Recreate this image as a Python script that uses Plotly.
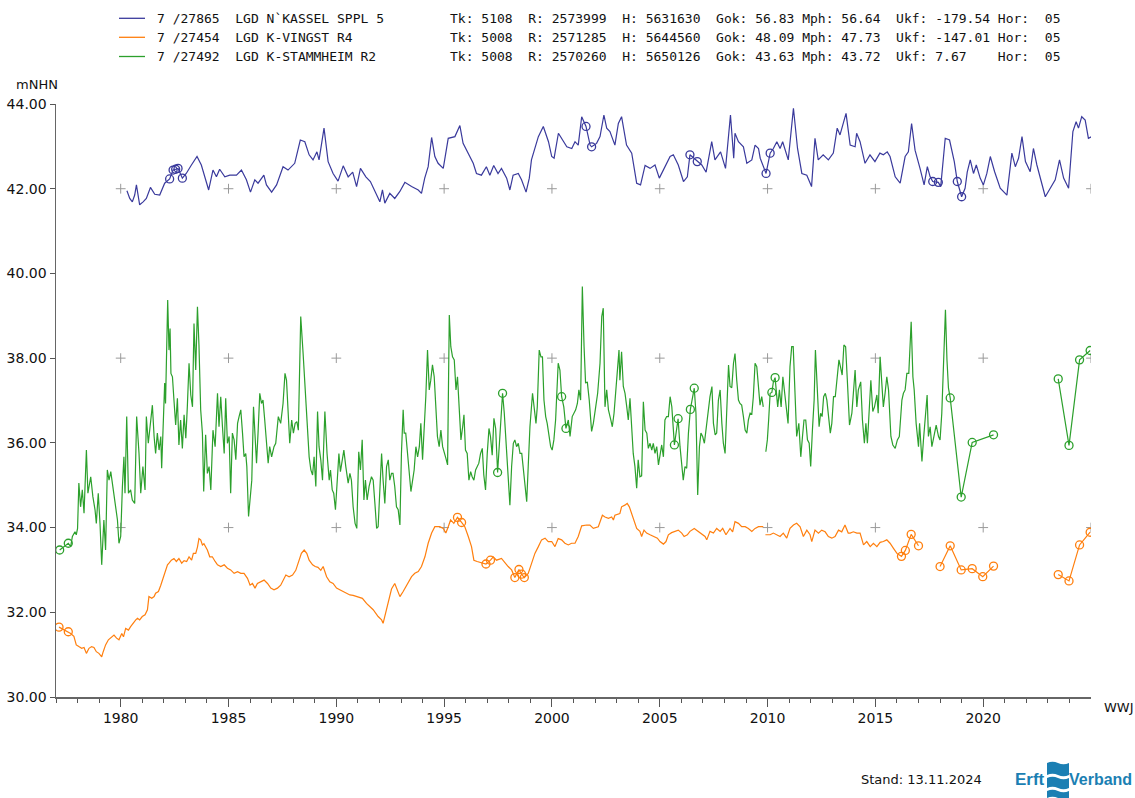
import plotly.graph_objects as go

# ---------------- data ----------------
# (year, level mNHN); (None, None) marks a gap in the record
kassel = [
(1980.29,41.95),(1980.42,41.77),(1980.54,41.69),(1980.65,41.85),(1980.73,42.09),(1980.80,41.85),(1980.88,41.62),
(1981.04,41.69),(1981.19,41.77),(1981.38,42.03),(1981.58,41.87),(1981.81,41.85),(1981.96,42.01),(1982.04,42.13),
(1982.27,42.23),(1982.43,42.44),(1982.55,42.46),(1982.66,42.48),(1982.86,42.25),(1983.04,42.36),(1983.28,42.56),
(1983.54,42.76),(1983.74,42.56),(1983.90,42.25),(1984.08,41.97),(1984.28,42.44),(1984.44,42.28),(1984.59,42.46),
(1984.83,42.28),(1985.06,42.32),(1985.37,42.32),(1985.60,42.44),(1985.83,42.21),(1986.02,41.92),(1986.22,42.21),
(1986.37,42.13),(1986.64,42.32),(1986.76,42.09),(1987.00,41.92),(1987.23,42.09),(1987.53,42.52),(1987.76,42.44),
(1988.07,42.60),(1988.33,43.15),(1988.54,43.11),(1988.74,42.80),(1988.92,42.68),(1989.10,42.87),(1989.20,42.68),
(1989.43,43.43),(1989.62,42.64),(1989.85,42.36),(1990.08,42.18),(1990.32,42.54),(1990.55,42.28),(1990.76,42.39),
(1990.94,42.05),(1991.12,42.48),(1991.37,42.28),(1991.58,42.17),(1991.86,41.85),(1992.02,41.69),(1992.14,41.97),
(1992.25,41.66),(1992.48,41.89),(1992.71,41.77),(1992.94,41.93),(1993.18,42.15),(1993.49,42.05),(1993.80,41.97),
(1993.95,41.89),(1994.10,42.25),(1994.26,42.52),(1994.42,43.21),(1994.57,42.76),(1994.72,42.60),(1994.96,42.48),
(1995.19,43.19),(1995.50,43.23),(1995.73,43.49),(1995.88,43.07),(1996.12,42.84),(1996.35,42.60),(1996.50,42.36),
(1996.73,42.32),(1996.96,42.52),(1997.12,42.32),(1997.30,42.55),(1997.50,42.36),(1997.66,42.48),(1997.90,42.25),
(1998.05,41.97),(1998.20,42.32),(1998.44,42.36),(1998.59,42.21),(1998.80,41.92),(1998.95,42.25),(1999.05,42.68),
(1999.37,43.23),(1999.60,43.47),(1999.84,43.11),(1999.99,42.76),(2000.10,42.72),(2000.30,43.31),(2000.53,43.11),
(2000.69,42.99),(2000.92,42.95),(2001.07,43.11),(2001.22,43.03),(2001.38,43.70),(2001.58,43.47),(2001.77,43.03),
(2001.84,42.99),(2002.07,43.07),(2002.23,43.23),(2002.41,43.74),(2002.54,43.43),(2002.69,43.35),(2002.92,43.03),
(2003.08,43.54),(2003.23,43.70),(2003.46,43.03),(2003.70,42.84),(2003.93,42.13),(2004.11,42.09),(2004.32,42.55),
(2004.55,42.48),(2004.78,42.56),(2004.98,42.25),(2005.20,42.48),(2005.48,42.76),(2005.63,42.80),(2005.86,42.56),
(2006.10,42.17),(2006.28,42.28),(2006.40,42.80),(2006.74,42.64),(2006.95,42.56),(2007.15,42.39),(2007.41,43.11),
(2007.56,42.68),(2007.82,42.87),(2008.05,42.48),(2008.28,43.74),(2008.43,42.72),(2008.49,43.31),(2008.65,43.11),
(2008.88,42.99),(2009.04,42.60),(2009.27,42.68),(2009.42,43.03),(2009.58,42.95),(2009.66,42.72),(2009.93,42.36),
(2010.12,42.84),(2010.27,42.95),(2010.43,43.11),(2010.58,42.95),(2010.70,43.11),(2010.81,42.91),(2010.96,42.68),
(2011.20,43.90),(2011.39,42.95),(2011.59,42.36),(2011.82,42.32),(2012.04,42.05),(2012.20,43.19),(2012.35,42.68),
(2012.58,42.80),(2012.82,42.68),(2013.05,42.84),(2013.23,43.43),(2013.36,43.27),(2013.64,43.78),(2013.83,43.03),
(2014.06,42.99),(2014.13,43.31),(2014.29,43.11),(2014.52,42.60),(2014.75,42.80),(2014.98,42.64),(2015.21,42.84),
(2015.37,42.80),(2015.55,42.87),(2015.68,42.76),(2015.92,42.28),(2016.15,42.13),(2016.38,42.76),(2016.53,42.87),
(2016.68,43.54),(2016.84,42.91),(2017.07,42.48),(2017.26,42.09),(2017.41,42.52),(2017.54,42.28),(2017.66,42.17),
(2017.92,42.15),(2018.03,42.05),(2018.24,43.19),(2018.44,43.15),(2018.66,42.64),(2018.80,42.17),(2019.00,41.81),
(2019.16,42.01),(2019.26,42.39),(2019.40,42.68),(2019.55,42.36),(2019.68,42.56),(2019.86,42.25),(2020.01,42.09),
(2020.17,42.36),(2020.33,42.76),(2020.53,42.40),(2020.79,42.01),(2021.10,41.85),(2021.33,42.84),(2021.49,42.52),
(2021.64,42.72),(2021.80,43.23),(2021.96,42.64),(2022.18,42.40),(2022.33,42.95),(2022.49,42.56),(2022.88,41.81),
(2023.11,42.01),(2023.34,42.21),(2023.54,42.68),(2023.73,42.25),(2023.96,42.01),(2024.16,43.35),(2024.31,43.58),
(2024.42,43.43),(2024.57,43.70),(2024.73,43.62),(2024.88,43.19),(2025.04,43.23),
]
kassel_manual = [(1982.27,42.23),(1982.43,42.44),(1982.55,42.46),(1982.66,42.48),(1982.86,42.25),(2001.58,43.47),
(2001.84,42.99),(2006.40,42.80),(2006.74,42.64),(2009.93,42.36),(2010.12,42.84),(2017.66,42.17),(2017.92,42.15),
(2018.80,42.17),(2019.00,41.81)]

vingst = [
(1977.14,31.65),(1977.57,31.54),(1977.68,31.50),(1977.83,31.43),(1977.94,31.23),(1978.06,31.19),(1978.19,31.15),
(1978.30,31.17),(1978.41,31.03),(1978.53,31.15),(1978.65,31.19),(1978.76,31.17),(1978.87,31.07),(1978.99,31.03),
(1979.12,30.95),(1979.19,31.07),(1979.30,31.23),(1979.43,31.35),(1979.54,31.39),(1979.69,31.46),(1979.81,31.39),
(1979.92,31.35),(1980.05,31.50),(1980.13,31.42),(1980.23,31.62),(1980.36,31.58),(1980.46,31.66),(1980.57,31.74),
(1980.70,31.82),(1980.78,31.86),(1980.88,31.82),(1981.00,31.90),(1981.13,31.94),(1981.24,32.06),(1981.31,32.37),
(1981.44,32.33),(1981.55,32.37),(1981.62,32.45),(1981.75,32.49),(1981.86,32.64),(1981.93,32.76),(1982.01,32.84),
(1982.09,32.99),(1982.17,33.12),(1982.24,33.16),(1982.35,33.23),(1982.47,33.27),(1982.58,33.20),(1982.70,33.27),
(1982.83,33.16),(1982.94,33.22),(1983.06,33.20),(1983.17,33.31),(1983.29,33.23),(1983.37,33.39),(1983.48,33.39),
(1983.56,33.54),(1983.63,33.74),(1983.71,33.71),(1983.79,33.59),(1983.86,33.62),(1983.94,33.55),(1984.02,33.47),
(1984.13,33.31),(1984.25,33.31),(1984.38,33.20),(1984.49,33.12),(1984.64,33.08),(1984.80,33.12),(1984.95,33.04),
(1985.10,33.00),(1985.26,32.92),(1985.42,32.96),(1985.57,32.92),(1985.72,32.92),(1985.88,32.80),(1986.00,32.64),
(1986.11,32.68),(1986.23,32.57),(1986.34,32.68),(1986.50,32.72),(1986.65,32.76),(1986.81,32.68),(1986.96,32.57),
(1987.11,32.53),(1987.27,32.57),(1987.42,32.64),(1987.58,32.80),(1987.66,32.88),(1987.81,32.84),(1987.97,32.88),
(1988.12,32.99),(1988.27,33.20),(1988.38,33.39),(1988.51,33.47),(1988.63,33.39),(1988.74,33.23),(1988.90,33.12),
(1989.02,33.08),(1989.15,33.06),(1989.28,32.99),(1989.39,33.08),(1989.55,32.84),(1989.70,32.72),(1989.85,32.68),
(1990.01,32.57),(1990.16,32.53),(1990.32,32.49),(1990.47,32.45),(1990.63,32.41),(1990.78,32.40),(1990.94,32.37),
(1991.10,32.35),(1991.21,32.33),(1991.40,32.21),(1991.71,32.06),(1991.94,31.90),(1992.10,31.82),(1992.17,31.74),
(1992.35,32.10),(1992.56,32.55),(1992.71,32.68),(1992.95,32.37),(1993.10,32.49),(1993.33,32.68),(1993.49,32.84),
(1993.64,32.92),(1993.80,32.96),(1993.95,33.08),(1994.11,33.31),(1994.26,33.63),(1994.42,33.87),(1994.57,34.02),
(1994.80,34.02),(1994.96,33.98),(1995.08,33.87),(1995.19,34.02),(1995.30,34.18),(1995.45,34.10),(1995.62,34.24),
(1995.81,34.12),(1995.96,34.02),(1996.12,33.79),(1996.27,33.55),(1996.38,33.23),(1996.53,33.20),(1996.94,33.14),
(1997.15,33.23),(1997.28,33.31),(1997.43,33.23),(1997.66,33.27),(1997.82,33.16),(1997.97,33.08),(1998.13,33.00),
(1998.28,32.82),(1998.47,33.01),(1998.59,32.90),(1998.72,32.82),(1998.90,32.92),(1999.06,33.16),(1999.21,33.39),
(1999.37,33.55),(1999.52,33.71),(1999.68,33.75),(1999.83,33.67),(1999.99,33.67),(2000.14,33.55),(2000.29,33.74),
(2000.45,33.71),(2000.60,33.63),(2000.76,33.59),(2000.91,33.63),(2001.07,33.63),(2001.22,33.79),(2001.38,34.04),
(2001.61,34.06),(2001.76,34.06),(2001.92,33.98),(2002.15,34.02),(2002.34,34.29),(2002.46,34.25),(2002.62,34.22),
(2002.77,34.25),(2002.85,34.18),(2002.92,34.29),(2003.15,34.33),(2003.23,34.49),(2003.38,34.53),(2003.49,34.57),
(2003.59,34.49),(2003.70,34.33),(2003.80,34.14),(2003.93,33.98),(2004.08,33.91),(2004.16,33.79),(2004.27,33.94),
(2004.39,33.87),(2004.55,33.83),(2004.73,33.79),(2004.89,33.75),(2005.01,33.67),(2005.17,33.61),(2005.29,33.67),
(2005.40,33.83),(2005.55,33.88),(2005.71,33.91),(2005.86,33.94),(2006.02,33.87),(2006.13,33.79),(2006.28,33.83),
(2006.40,33.91),(2006.60,33.98),(2006.79,33.91),(2006.94,33.87),(2007.10,33.79),(2007.18,33.71),(2007.33,33.91),
(2007.49,33.87),(2007.64,33.98),(2007.80,33.91),(2007.92,33.98),(2008.07,33.83),(2008.26,33.98),(2008.38,33.90),
(2008.49,34.14),(2008.65,34.10),(2008.80,34.02),(2008.96,34.02),(2009.11,33.98),(2009.27,33.91),(2009.42,33.98),
(2009.58,34.02),(2009.80,34.02),(None,None),
(2009.90,33.83),(2010.12,33.83),(2010.27,33.87),(2010.42,33.83),(2010.58,33.79),(2010.73,33.87),(2010.89,33.75),
(2011.04,33.98),(2011.20,34.06),(2011.35,34.10),(2011.51,34.02),(2011.66,33.79),(2011.82,33.94),(2011.97,33.83),
(2012.05,33.67),(2012.20,33.94),(2012.36,33.87),(2012.51,33.94),(2012.67,33.90),(2012.82,33.79),(2012.98,33.75),
(2013.13,33.79),(2013.29,33.94),(2013.44,33.90),(2013.59,34.06),(2013.74,33.87),(2013.83,33.87),(2013.98,33.90),
(2014.14,33.87),(2014.29,33.87),(2014.45,33.59),(2014.60,33.67),(2014.76,33.55),(2014.91,33.63),(2015.07,33.55),
(2015.22,33.65),(2015.37,33.67),(2015.53,33.71),(2015.68,33.63),(2015.84,33.51),(2016.00,33.39),(2016.21,33.32),
(2016.39,33.46),(2016.66,33.84),(2017.00,33.57),(None,None),
(2018.00,33.08),(2018.47,33.57),(2018.98,33.00),(2019.49,33.03),(2019.98,32.84),(2020.48,33.09),(None,None),
(2023.48,32.89),(2023.98,32.74),(2024.47,33.59),(2024.96,33.89),
]
vingst_manual = [(1977.14,31.65),(1977.57,31.54),(1995.62,34.24),(1995.81,34.12),(1996.94,33.14),(1997.15,33.23),
(1998.28,32.82),(1998.47,33.01),(1998.59,32.90),(1998.72,32.82),(2016.21,33.32),(2016.39,33.46),(2016.66,33.84),
(2017.00,33.57),(2018.00,33.08),(2018.47,33.57),(2018.98,33.00),(2019.49,33.03),(2019.98,32.84),(2020.48,33.09),
(2023.48,32.89),(2023.98,32.74),(2024.47,33.59),(2024.96,33.89)]

stammheim = [
(1977.17,33.47),(1977.57,33.63),(1977.68,33.55),(1977.76,33.79),(1977.88,33.90),(1977.94,33.83),(1978.00,33.98),
(1978.06,35.05),(1978.14,34.49),(1978.22,34.89),(1978.30,34.34),(1978.41,35.83),(1978.48,34.81),(1978.61,35.20),
(1978.71,34.73),(1978.81,34.42),(1978.87,34.10),(1978.96,34.81),(1979.04,34.10),(1979.12,33.12),(1979.22,34.18),
(1979.30,33.47),(1979.38,35.36),(1979.46,35.12),(1979.54,35.32),(1979.61,35.05),(1979.69,34.81),(1979.77,34.49),
(1979.85,34.18),(1979.92,33.63),(1980.00,33.79),(1980.08,34.97),(1980.15,35.67),(1980.20,34.81),(1980.28,36.62),
(1980.36,34.81),(1980.46,34.89),(1980.54,34.65),(1980.65,34.57),(1980.74,36.62),(1980.85,35.75),(1980.93,34.81),
(1981.03,35.44),(1981.13,34.89),(1981.19,36.62),(1981.28,35.99),(1981.39,36.46),(1981.47,36.89),(1981.55,36.15),
(1981.62,35.75),(1981.70,36.23),(1981.78,35.83),(1981.86,36.15),(1981.90,35.40),(1981.98,36.54),(1982.04,37.41),
(1982.08,36.93),(1982.13,38.27),(1982.18,39.37),(1982.24,38.19),(1982.29,38.70),(1982.33,37.64),(1982.40,37.56),
(1982.47,37.01),(1982.55,36.42),(1982.63,37.05),(1982.70,35.95),(1982.78,36.54),(1982.86,35.87),(1982.94,36.66),
(1983.02,36.11),(1983.09,36.85),(1983.17,37.88),(1983.25,37.13),(1983.33,36.85),(1983.40,38.82),(1983.48,37.72),
(1983.56,39.21),(1983.63,38.31),(1983.71,36.78),(1983.79,36.23),(1983.85,34.85),(1983.94,36.19),(1984.02,35.28),
(1984.10,35.44),(1984.18,34.89),(1984.28,36.30),(1984.38,35.91),(1984.49,37.17),(1984.56,36.38),(1984.64,37.09),
(1984.72,36.38),(1984.80,35.75),(1984.87,37.05),(1984.95,35.99),(1985.03,36.15),(1985.10,34.81),(1985.18,36.23),
(1985.26,36.07),(1985.34,35.60),(1985.42,36.46),(1985.49,36.62),(1985.57,36.78),(1985.65,36.23),(1985.72,35.67),
(1985.80,35.75),(1985.85,35.44),(1985.93,34.26),(1986.00,34.65),(1986.08,35.12),(1986.16,36.85),(1986.23,36.30),
(1986.30,35.52),(1986.37,36.23),(1986.45,37.17),(1986.53,36.93),(1986.60,37.01),(1986.68,36.54),(1986.76,35.91),
(1986.84,35.52),(1986.91,35.91),(1987.00,35.67),(1987.11,35.91),(1987.19,35.99),(1987.31,36.62),(1987.42,36.46),
(1987.53,36.93),(1987.62,37.64),(1987.69,37.48),(1987.76,36.85),(1987.84,35.99),(1987.93,36.54),(1988.01,36.23),
(1988.09,36.46),(1988.17,36.50),(1988.24,36.30),(1988.35,38.98),(1988.46,38.11),(1988.55,37.25),(1988.66,36.38),
(1988.74,35.67),(1988.82,35.36),(1988.90,35.24),(1988.97,35.67),(1989.05,34.97),(1989.13,36.74),(1989.20,35.91),
(1989.28,35.60),(1989.36,35.12),(1989.47,36.74),(1989.57,35.75),(1989.67,35.12),(1989.73,35.36),(1989.81,34.89),
(1989.88,34.81),(1989.96,34.42),(1990.04,34.97),(1990.12,35.75),(1990.19,35.32),(1990.27,35.60),(1990.35,35.83),
(1990.44,35.44),(1990.55,35.05),(1990.63,35.28),(1990.70,35.12),(1990.78,34.49),(1990.87,34.10),(1990.95,33.98),
(1991.04,35.79),(1991.12,35.36),(1991.20,36.07),(1991.28,34.65),(1991.35,35.12),(1991.43,34.65),(1991.52,34.97),
(1991.63,35.20),(1991.71,35.12),(1991.79,34.57),(1991.87,33.98),(1991.94,34.02),(1992.02,34.97),(1992.10,35.75),
(1992.17,35.12),(1992.25,34.57),(1992.33,35.44),(1992.41,35.60),(1992.48,35.12),(1992.56,35.28),(1992.63,35.28),
(1992.71,34.97),(1992.79,34.49),(1992.87,34.42),(1992.95,34.06),(1993.02,35.75),(1993.10,36.78),(1993.15,36.23),
(1993.22,36.23),(1993.30,35.75),(1993.38,35.28),(1993.46,34.85),(1993.54,35.12),(1993.61,35.36),(1993.69,35.91),
(1993.77,35.67),(1993.85,35.91),(1993.92,36.46),(1994.00,35.60),(1994.08,36.38),(1994.15,37.09),(1994.23,38.19),
(1994.31,37.25),(1994.38,37.48),(1994.46,37.84),(1994.54,37.56),(1994.62,36.78),(1994.69,36.15),(1994.77,35.91),
(1994.85,36.30),(1994.93,35.91),(1995.00,35.75),(1995.08,35.64),(1995.16,35.48),(1995.24,39.02),(1995.31,38.27),
(1995.39,38.03),(1995.47,37.96),(1995.55,37.25),(1995.62,37.56),(1995.70,36.70),(1995.78,36.07),(1995.86,36.38),
(1995.92,36.66),(1995.99,35.83),(1996.07,35.75),(1996.15,35.12),(1996.23,35.32),(1996.30,35.20),(1996.38,35.12),
(1996.46,35.36),(1996.53,35.44),(1996.61,35.52),(1996.69,35.75),(1996.77,35.87),(1996.84,35.24),(1996.92,34.89),
(1997.00,35.75),(1997.08,36.34),(1997.15,36.15),(1997.23,35.71),(1997.31,36.58),(1997.39,36.34),(1997.48,35.30),
(1997.71,37.17),(1997.79,36.70),(1997.87,36.07),(1997.94,35.44),(1998.05,34.53),(1998.13,35.44),(1998.21,35.99),
(1998.28,36.07),(1998.36,35.91),(1998.44,35.99),(1998.52,35.75),(1998.60,35.75),(1998.67,35.44),(1998.75,35.12),
(1998.83,34.61),(1998.90,35.44),(1998.98,36.38),(1999.10,37.17),(1999.18,36.85),(1999.26,36.46),(1999.32,36.85),
(1999.41,38.19),(1999.49,38.03),(1999.56,38.03),(1999.63,37.01),(1999.71,36.62),(1999.78,36.46),(1999.86,36.15),
(1999.94,35.91),(2000.01,35.83),(2000.09,36.07),(2000.17,36.54),(2000.24,37.25),(2000.29,37.88),(2000.37,37.72),
(2000.45,37.09),(2000.55,36.85),(2000.65,36.34),(2000.76,36.54),(2000.84,36.15),(2000.94,36.62),(2001.02,36.70),
(2001.10,36.78),(2001.18,36.93),(2001.25,37.25),(2001.33,37.01),(2001.41,39.69),(2001.49,38.27),(2001.56,37.41),
(2001.64,37.44),(2001.73,37.01),(2001.84,36.27),(2001.92,36.46),(2002.03,36.85),(2002.12,37.17),(2002.23,37.88),
(2002.31,38.98),(2002.38,39.18),(2002.46,36.85),(2002.54,37.25),(2002.62,36.78),(2002.73,36.54),(2002.80,36.38),
(2002.88,36.70),(2002.96,37.25),(2003.03,37.72),(2003.11,38.19),(2003.15,37.48),(2003.23,38.15),(2003.31,37.33),
(2003.39,37.17),(2003.47,36.85),(2003.54,36.54),(2003.62,37.05),(2003.70,36.38),(2003.77,35.75),(2003.85,35.44),
(2003.93,34.93),(2004.00,35.60),(2004.08,35.20),(2004.16,35.22),(2004.24,36.97),(2004.32,36.30),(2004.40,36.23),
(2004.47,35.87),(2004.55,35.99),(2004.63,35.83),(2004.70,35.99),(2004.78,35.75),(2004.86,35.91),(2004.94,35.48),
(2005.01,35.75),(2005.09,35.95),(2005.17,35.67),(2005.24,36.54),(2005.32,36.62),(2005.40,36.62),(2005.48,37.09),
(2005.56,36.85),(2005.68,35.95),(2005.85,36.57),(2005.94,35.91),(2006.02,35.52),(2006.09,35.12),(2006.17,35.44),
(2006.25,35.40),(2006.33,36.23),(2006.42,36.79),(2006.60,37.29),(2006.68,36.70),(2006.76,34.77),(2006.84,35.91),
(2006.91,36.23),(2006.99,36.15),(2007.07,35.99),(2007.15,36.38),(2007.23,36.70),(2007.33,37.09),(2007.42,37.33),
(2007.49,36.46),(2007.57,36.19),(2007.64,36.23),(2007.72,37.01),(2007.80,37.25),(2007.88,36.46),(2007.95,35.99),
(2008.03,35.75),(2008.11,36.70),(2008.19,37.84),(2008.26,37.33),(2008.34,37.30),(2008.42,37.88),(2008.49,38.11),
(2008.57,37.48),(2008.65,37.01),(2008.72,36.93),(2008.80,36.89),(2008.88,36.62),(2008.96,36.30),(2009.04,36.23),
(2009.11,36.54),(2009.19,36.70),(2009.27,36.68),(2009.34,37.09),(2009.42,37.88),(2009.50,37.80),(2009.58,37.17),
(2009.65,36.89),(2009.73,37.09),(2009.80,36.85),(None,None),
(2009.92,35.79),(2009.99,36.07),(2010.05,36.54),(2010.12,37.17),(2010.20,37.19),(2010.27,37.44),(2010.35,37.54),
(2010.47,36.85),(2010.55,37.25),(2010.63,36.85),(2010.71,37.56),(2010.78,37.25),(2010.86,36.85),(2010.95,36.46),
(2011.04,37.80),(2011.12,38.27),(2011.19,38.27),(2011.27,37.25),(2011.35,36.15),(2011.45,36.46),(2011.54,35.67),
(2011.62,36.15),(2011.69,36.54),(2011.77,36.54),(2011.85,36.07),(2011.93,35.99),(2012.00,35.44),(2012.08,36.30),
(2012.16,37.01),(2012.22,38.19),(2012.31,37.25),(2012.39,36.38),(2012.46,36.70),(2012.53,36.62),(2012.60,37.09),
(2012.68,37.17),(2012.75,37.01),(2012.83,36.54),(2012.91,36.23),(2012.98,36.46),(2013.06,37.09),(2013.14,37.09),
(2013.23,37.56),(2013.31,37.96),(2013.38,37.80),(2013.46,37.60),(2013.54,38.31),(2013.62,38.27),(2013.70,37.48),
(2013.80,36.42),(2013.91,36.70),(2013.98,37.25),(2014.06,37.72),(2014.14,36.85),(2014.21,37.25),(2014.32,37.44),
(2014.40,36.54),(2014.49,35.99),(2014.56,36.46),(2014.63,35.99),(2014.71,36.85),(2014.79,37.48),(2014.88,36.74),
(2014.96,36.85),(2015.07,37.13),(2015.13,36.70),(2015.22,38.03),(2015.30,37.25),(2015.37,36.85),(2015.45,37.17),
(2015.53,37.56),(2015.61,37.25),(2015.72,36.15),(2015.81,35.95),(2015.92,35.87),(2016.02,36.07),(2016.11,36.15),
(2016.23,37.01),(2016.30,37.17),(2016.38,37.25),(2016.46,37.64),(2016.55,37.64),(2016.66,38.86),(2016.74,37.56),
(2016.80,37.25),(2016.89,36.46),(2017.00,35.91),(2017.05,36.46),(2017.16,35.56),(2017.23,36.07),(2017.31,36.54),
(2017.40,37.13),(2017.46,36.15),(2017.54,36.38),(2017.62,35.91),(2017.69,36.07),(2017.82,36.42),(2017.93,36.15),
(2018.00,36.07),(2018.08,36.70),(2018.16,38.11),(2018.25,39.14),(2018.32,37.96),(2018.39,37.29),(2018.47,37.06),
(2018.98,34.72),(2019.49,36.01),(2020.48,36.19),(None,None),
(2023.48,37.51),(2023.98,35.94),(2024.47,37.96),(2024.96,38.18),
]
stammheim_manual = [(1977.17,33.47),(1977.57,33.63),(1997.48,35.30),(1997.71,37.17),(2000.45,37.09),(2000.65,36.34),
(2005.68,35.95),(2005.85,36.57),(2006.42,36.79),(2006.60,37.29),(2010.20,37.19),(2010.35,37.54),(2018.47,37.06),
(2018.98,34.72),(2019.49,36.01),(2020.48,36.19),(2023.48,37.51),(2023.98,35.94),(2024.47,37.96),(2024.96,38.18)]

series_names = ["7 /27865  LGD N`KASSEL SPPL 5", "7 /27454  LGD K-VINGST R4", "7 /27492  LGD K-STAMMHEIM R2"]
series_info = [
    "Tk: 5108  R: 2573999  H: 5631630  Gok: 56.83 Mph: 56.64  Ukf: -179.54 Hor:  05",
    "Tk: 5008  R: 2571285  H: 5644560  Gok: 48.09 Mph: 47.73  Ukf: -147.01 Hor:  05",
    "Tk: 5008  R: 2570260  H: 5650126  Gok: 43.63 Mph: 43.72  Ukf: 7.67    Hor:  05",
]
series_colors = ["#3a3a9c", "#ff7f0e", "#2ca02c"]

grid_years = [1980, 1985, 1990, 1995, 2000, 2005, 2010, 2015, 2020, 2025]
grid_levels = [34, 38, 42]
major_years = [1980, 1985, 1990, 1995, 2000, 2005, 2010, 2015, 2020]
minor_years = list(range(1977, 2025))
level_ticks = [30, 32, 34, 36, 38, 40, 42, 44]

# ---------------- layout geometry ----------------
W, H = 1135, 798
L, R, T, B = 56, 44, 104, 101
PW, PH = W - L - R, H - T - B

def px(x):  # page pixel -> paper
    return (x - L) / PW

def py(y):
    return (H - B - y) / PH

fig = go.Figure()

# reference crosses
gx = [yr for yr in grid_years for _ in grid_levels]
gy = [lv for _ in grid_years for lv in grid_levels]
fig.add_trace(go.Scatter(x=gx, y=gy, mode="markers", hoverinfo="skip", showlegend=False,
                         marker=dict(symbol="cross-thin", size=7, color="#9a9a9a", line=dict(color="#9a9a9a", width=1))))

for data, manual, color, name in [(kassel, kassel_manual, series_colors[0], series_names[0]),
                                  (vingst, vingst_manual, series_colors[1], series_names[1]),
                                  (stammheim, stammheim_manual, series_colors[2], series_names[2])]:
    fig.add_trace(go.Scatter(x=[p[0] for p in data], y=[p[1] for p in data], mode="lines",
                             line=dict(color=color, width=1.2), connectgaps=False, name=name, showlegend=False))
    fig.add_trace(go.Scatter(x=[p[0] for p in manual], y=[p[1] for p in manual], mode="markers",
                             marker=dict(symbol="circle-open", size=8, color=color, line=dict(color=color, width=1.3)),
                             showlegend=False, hoverinfo="skip"))

mono = "DejaVu Sans Mono"
sans = "DejaVu Sans"
annotations = []
shapes = []
rows_y = [18.3, 37.3, 56.5]
for i in range(3):
    shapes.append(dict(type="line", xref="paper", yref="paper", x0=px(119), x1=px(145), y0=py(rows_y[i]), y1=py(rows_y[i]),
                       line=dict(color=series_colors[i], width=1.3)))
    annotations.append(dict(text=series_names[i].replace(" ", "\u00a0"), xref="paper", yref="paper", x=px(155), y=py(rows_y[i]),
                            xanchor="left", yanchor="middle", showarrow=False, font=dict(family=mono, size=13, color="#111")))
    annotations.append(dict(text=series_info[i].replace(" ", "\u00a0"), xref="paper", yref="paper", x=px(448), y=py(rows_y[i]),
                            xanchor="left", yanchor="middle", showarrow=False, font=dict(family=mono, size=13, color="#111")))

annotations += [
    dict(text="mNHN", xref="paper", yref="paper", x=px(36.5), y=py(85), xanchor="center", yanchor="middle",
         showarrow=False, font=dict(family=sans, size=13, color="#111")),
    dict(text="WWJ", xref="paper", yref="paper", x=px(1102), y=py(708), xanchor="left", yanchor="middle",
         showarrow=False, font=dict(family=sans, size=13, color="#111")),
    dict(text="Stand: 13.11.2024", xref="paper", yref="paper", x=px(859), y=py(779), xanchor="left", yanchor="middle",
         showarrow=False, font=dict(family=sans, size=13, color="#111")),
    dict(text="<b>Erft</b>", xref="paper", yref="paper", x=px(1013), y=py(779), xanchor="left", yanchor="middle",
         showarrow=False, font=dict(family="Liberation Sans", size=17, color="#1b7fb3")),
    dict(text="<b>Verband</b>", xref="paper", yref="paper", x=px(1134), y=py(779), xanchor="right", yanchor="middle",
         showarrow=False, font=dict(family="Liberation Sans", size=16, color="#1b7fb3")),
]

# logo emblem (three wavy bands)
def band(x0, x1, ytop, ybot, amp):
    xm = (x0 + x1) / 2
    return ("M {a},{b} Q {c},{d} {e},{f} Q {g},{h} {i},{j} L {i},{k} Q {g},{l} {e},{m} Q {c},{n} {a},{o} Z").format(
        a=px(x0), b=py(ytop), c=px((x0 + xm) / 2), d=py(ytop - amp), e=px(xm), f=py(ytop),
        g=px((xm + x1) / 2), h=py(ytop + amp), i=px(x1), j=py(ytop), k=py(ybot),
        l=py(ybot + amp), m=py(ybot), n=py(ybot - amp), o=py(ybot))

for yt, yb in [(763, 775), (778, 788), (791, 798)]:
    shapes.append(dict(type="path", xref="paper", yref="paper", path=band(1047, 1069, yt, yb, 2.5),
                       fillcolor="#1b7fb3", line=dict(width=0)))

fig.update_layout(
    width=W, height=H, margin=dict(l=L, r=R, t=T, b=B, autoexpand=False),
    paper_bgcolor="white", plot_bgcolor="white", showlegend=False,
    annotations=annotations, shapes=shapes,
    xaxis=dict(range=[1977.0, 2025.0], tickmode="array", tickvals=major_years, ticktext=[str(v) for v in major_years],
               ticks="outside", ticklen=8, tickwidth=1, tickcolor="#555", showline=True, linecolor="#666", linewidth=1.5,
               showgrid=False, zeroline=False, tickfont=dict(family=sans, size=14, color="#111"),
               minor=dict(tickmode="array", tickvals=minor_years, ticks="outside", ticklen=4, tickcolor="#555", showgrid=False)),
    yaxis=dict(range=[30, 44], tickmode="array", tickvals=level_ticks, tickformat=".2f",
               ticks="outside", ticklen=5, tickwidth=1, tickcolor="#555", showline=True, linecolor="#666", linewidth=1.5,
               showgrid=False, zeroline=False, tickfont=dict(family=sans, size=14, color="#111")),
)

fig.write_html("out.html", config={"displayModeBar": False, "staticPlot": True},
               post_script="document.documentElement.style.overflow='hidden';"
                           "document.body.style.margin='0';document.body.style.overflow='hidden';")
